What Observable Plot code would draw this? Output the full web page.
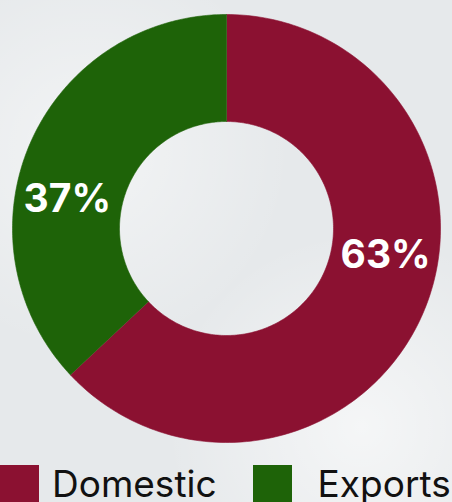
<!DOCTYPE html>
<html>
<head>
<meta charset="utf-8">
<script src="https://cdn.jsdelivr.net/npm/d3@7"></script>
<script src="https://cdn.jsdelivr.net/npm/@observablehq/plot@0.6"></script>
<style>
  html, body { margin: 0; padding: 0; }
  body { width: 452px; height: 502px; overflow: hidden; background: #e6e9eb;
         background-image: radial-gradient(circle at 20% 30%, rgba(255,255,255,0.5), rgba(255,255,255,0) 40%),
                           radial-gradient(circle at 80% 85%, rgba(255,255,255,0.6), rgba(255,255,255,0) 35%);
         font-family: Inter, sans-serif; }
  #legend { display: flex; align-items: flex-start; margin-top: 9px; height: 60px; }
  .item { display: flex; align-items: flex-start; }
  .sw { width: 39px; height: 39px; display: inline-block; }
  .lab { font-size: 37px; line-height: 39px; color: #111; margin-left: 13px; margin-top: -1px; }
</style>
</head>
<body>
<div id="chart"></div>
<div id="legend"></div>
<script>
const categories = ["Domestic", "Exports"];
const values = [63, 37];
const labels = ["63%", "37%"];
const colors = ["#8b1131", "#1e6308"];

const innerRatio = 0.5;
const labelRadius = 0.755;
const labelShift = 13.5 * Math.PI / 180;

const arcs = d3.pie().sort(null).value(d => d)(values);

function slicePoints(a, i) {
  const pts = [];
  const n = 200;
  for (let k = 0; k <= n; k++) {
    const t = a.startAngle + (a.endAngle - a.startAngle) * k / n;
    pts.push({x: Math.sin(t), y: Math.cos(t), cat: categories[i]});
  }
  for (let k = n; k >= 0; k--) {
    const t = a.startAngle + (a.endAngle - a.startAngle) * k / n;
    pts.push({x: innerRatio * Math.sin(t), y: innerRatio * Math.cos(t), cat: categories[i]});
  }
  return pts;
}

const labelData = arcs.map((a, i) => {
  const m = (a.startAngle + a.endAngle) / 2 - labelShift;
  return {x: labelRadius * Math.sin(m), y: labelRadius * Math.cos(m), text: labels[i]};
});

const marks = arcs.map((a, i) =>
  Plot.line(slicePoints(a, i), {x: "x", y: "y", fill: colors[i], stroke: colors[i], strokeWidth: 0.6, curve: "linear"})
);
marks.push(Plot.text(labelData, {x: "x", y: "y", text: "text", fill: "#ffffff", fontSize: 39, fontWeight: 700, fontFamily: "Inter", dy: -1}));

const chart = Plot.plot({
  width: 452,
  height: 456,
  marginLeft: 12,
  marginRight: 12,
  marginTop: 14,
  marginBottom: 14,
  x: {domain: [-1, 1], axis: null},
  y: {domain: [-1, 1], axis: null},
  style: {background: "transparent", overflow: "visible"},
  marks
});
document.getElementById("chart").appendChild(chart);

const legend = document.getElementById("legend");
categories.forEach((c, i) => {
  const item = document.createElement("div");
  item.className = "item";
  if (i > 0) item.style.marginLeft = "36px";
  const sw = document.createElement("span");
  sw.className = "sw";
  sw.style.background = colors[i];
  const lab = document.createElement("span");
  lab.className = "lab";
  if (i > 0) lab.style.marginLeft = "26px";
  lab.textContent = c;
  item.appendChild(sw);
  item.appendChild(lab);
  legend.appendChild(item);
});
</script>
</body>
</html>
